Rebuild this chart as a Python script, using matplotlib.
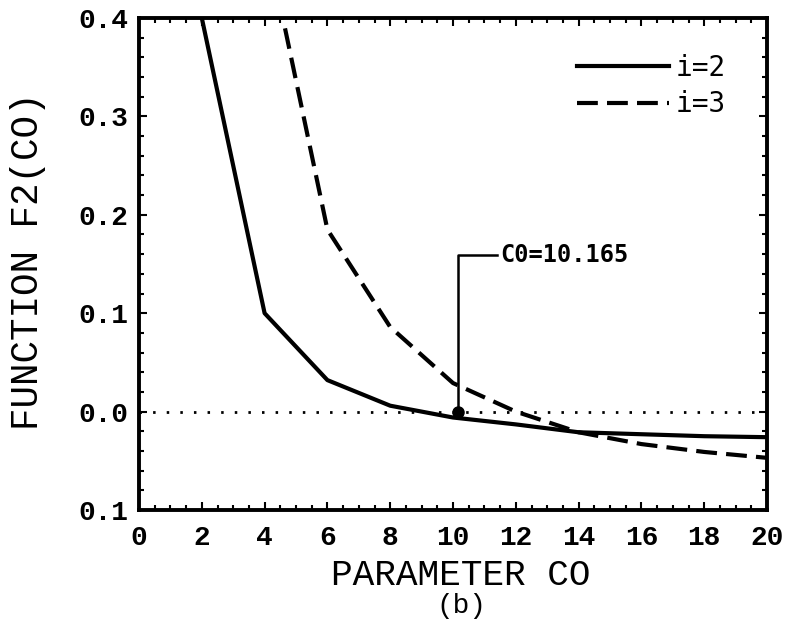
import numpy as np
import matplotlib.pyplot as plt
from matplotlib.ticker import MultipleLocator

# values
co = [2, 4, 6, 8, 10, 12, 14, 16, 18, 20]
f2_i2 = [0.40, 0.100, 0.032, 0.006, -0.006, -0.013, -0.021, -0.023, -0.025, -0.026]
f2_i3 = [0.80, 0.488, 0.185, 0.086, 0.029, 0.000, -0.021, -0.033, -0.041, -0.047]

root_x = 10.165
x_ticks = [0, 2, 4, 6, 8, 10, 12, 14, 16, 18, 20]
y_ticks = [-0.1, 0.0, 0.1, 0.2, 0.3, 0.4]
y_tick_labels = ['0.1', '0.0', '0.1', '0.2', '0.3', '0.4']

mono = 'Liberation Mono'

fig = plt.figure(figsize=(7.95, 6.29), dpi=100)
fig.set_facecolor('w')
ax = fig.add_axes([139 / 795, 1 - 510 / 629, 628 / 795, 492 / 629])

ax.plot(co, f2_i2, 'k-', lw=3.0, label='i=2')
ax.plot(co, f2_i3, 'k--', lw=3.0, dashes=(5, 2.2), label='i=3')
ax.axhline(0.0, color='k', ls=(0, (0.9, 4.0)), lw=2.0)

# root marker with its call-out
ax.plot([root_x], [0.0], 'ko', ms=8)
ax.plot([root_x, root_x, 11.4], [0.0, 0.159, 0.159], 'k-', lw=1.8)
ax.text(11.5, 0.159, 'C0=10.165', fontsize=17, family='DejaVu Sans Mono',
        weight='bold', va='center', ha='left')

ax.set_xlim(0, 20)
ax.set_ylim(-0.1, 0.4)
ax.set_xticks(x_ticks)
ax.set_yticks(y_ticks)
ax.set_yticklabels(y_tick_labels)
ax.xaxis.set_minor_locator(MultipleLocator(0.5))
ax.yaxis.set_minor_locator(MultipleLocator(0.02))
ax.tick_params(which='both', direction='in', top=True, right=True, width=1.5)
ax.tick_params(which='major', length=6, pad=8)
ax.tick_params(axis='x', which='major', pad=11)
ax.tick_params(which='minor', length=3.5)
for lbl in ax.get_xticklabels() + ax.get_yticklabels():
    lbl.set_family(mono)
    lbl.set_weight('bold')
    lbl.set_fontsize(20)
for s in ax.spines.values():
    s.set_linewidth(2.8)

ax.set_xlabel('PARAMETER CO', family=mono, fontsize=26, va='center')
ax.xaxis.set_label_coords(0.513, -0.133)
ax.set_ylabel('FUNCTION F2(CO)', family=mono, fontsize=27, va='center')
ax.yaxis.set_label_coords(-0.177, 0.506)
fig.text(461 / 795, 1 - 606 / 629, '(b)', family=mono, fontsize=20,
         ha='center', va='center')

leg = ax.legend(loc='upper left', frameon=False, handlelength=3.3,
                handletextpad=0.25, labelspacing=0.3, borderpad=0,
                borderaxespad=0,
                prop={'family': 'DejaVu Sans Mono', 'size': 20},
                bbox_to_anchor=((577 - 139) / 628, (510 - 54) / 492))

fig.savefig('out.png', dpi=100)
